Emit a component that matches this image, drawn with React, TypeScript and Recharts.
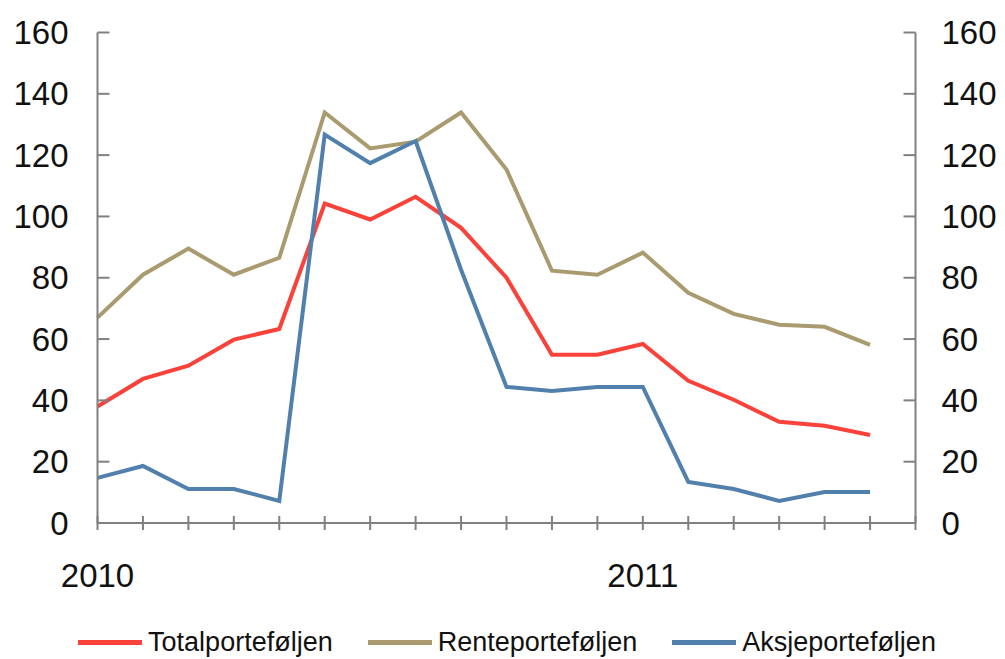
import React from "react";
import { LineChart, Line, XAxis, YAxis, Legend } from "recharts";

const months: number[] = [0, 1, 2, 3, 4, 5, 6, 7, 8, 9, 10, 11, 12, 13, 14, 15, 16, 17];
const total: number[] = [38, 47, 51.3, 59.8, 63.3, 104.2, 99, 106.4, 96.3, 80, 54.9, 54.9, 58.4, 46.4, 40.2, 33, 31.7, 28.7];
const rente: number[] = [67, 81, 89.5, 81, 86.5, 133.9, 122.2, 124.4, 133.9, 115.3, 82.3, 81, 88.2, 75.1, 68.2, 64.7, 64, 58.1];
const aksje: number[] = [14.7, 18.6, 11.1, 11.1, 7.2, 126.7, 117.4, 124.6, 82.6, 44.4, 43.1, 44.4, 44.4, 13.4, 11.1, 7.2, 10.1, 10.1];
const xTicks: number[] = [0, 1, 2, 3, 4, 5, 6, 7, 8, 9, 10, 11, 12, 13, 14, 15, 16, 17, 18];
const yearLabels: Record<number, string> = { 0: "2010", 12: "2011" };
const yTicks: number[] = [0, 20, 40, 60, 80, 100, 120, 140, 160];

const seriesNames = ["Totalporteføljen", "Renteporteføljen", "Aksjeporteføljen"];
const seriesKeys = ["total", "rente", "aksje"];
const seriesColors = ["#F9423A", "#A99B6F", "#5180AC"];
const seriesAxes = ["left", "left", "right"];

const data = months.map((m, i) => ({ i: m, total: total[i], rente: rente[i], aksje: aksje[i] }));

const FONT = "'Liberation Sans', Arial, sans-serif";
const AXIS = "#808080";

const LeftTick = (props: any) => {
  const { x, y, payload } = props;
  return (
    <g>
      <line x1={x} x2={x + 12} y1={y} y2={y} stroke={AXIS} strokeWidth={2} />
      <text x={x - 29} y={y + 11.5} textAnchor="end" fontSize={33} fontFamily={FONT} fill="#111">
        {payload.value}
      </text>
    </g>
  );
};

const RightTick = (props: any) => {
  const { x, y, payload } = props;
  return (
    <g>
      <line x1={x - 12} x2={x} y1={y} y2={y} stroke={AXIS} strokeWidth={2} />
      <text x={x + 26} y={y + 11.5} textAnchor="start" fontSize={33} fontFamily={FONT} fill="#111">
        {payload.value}
      </text>
    </g>
  );
};

const BottomTick = (props: any) => {
  const { x, y, payload } = props;
  const label = yearLabels[payload.value];
  return (
    <g>
      <line x1={x} x2={x} y1={y - 7} y2={y + 7} stroke={AXIS} strokeWidth={2} />
      {label ? (
        <text x={x} y={y + 64} textAnchor="middle" fontSize={33} fontFamily={FONT} fill="#111">
          {label}
        </text>
      ) : null}
    </g>
  );
};

const LegendContent = () => (
  <div style={{ display: "flex", justifyContent: "center", alignItems: "center", fontFamily: FONT, fontSize: 27, color: "#111", paddingLeft: 9 }}>
    {seriesNames.map((n, k) => (
      <div key={n} style={{ display: "flex", alignItems: "center", marginRight: k < 2 ? 35 : 0 }}>
        <div style={{ width: 64, height: 5, background: seriesColors[k], marginRight: 6 }} />
        <span style={{ lineHeight: "30px" }}>{n}</span>
      </div>
    ))}
  </div>
);

export default function App() {
  return (
    <div style={{ position: "absolute", left: 0, top: 0, width: 1005, height: 659, background: "#fff" }}>
      <LineChart width={1005} height={659} data={data} margin={{ top: 32.5, right: 0, left: 0, bottom: 0 }}>
        <XAxis
          dataKey="i"
          type="number"
          domain={[0, 18]}
          ticks={xTicks}
          interval={0}
          height={136}
          tickSize={0}
          tickMargin={0}
          tickLine={false}
          axisLine={{ stroke: AXIS, strokeWidth: 2 }}
          tick={<BottomTick />}
        />
        <YAxis
          yAxisId="left"
          orientation="left"
          type="number"
          domain={[0, 160]}
          ticks={yTicks}
          interval={0}
          width={97.5}
          tickSize={0}
          tickMargin={0}
          tickLine={false}
          axisLine={{ stroke: AXIS, strokeWidth: 2 }}
          tick={<LeftTick />}
        />
        <YAxis
          yAxisId="right"
          orientation="right"
          type="number"
          domain={[0, 160]}
          ticks={yTicks}
          interval={0}
          width={89.5}
          tickSize={0}
          tickMargin={0}
          tickLine={false}
          axisLine={{ stroke: AXIS, strokeWidth: 2 }}
          tick={<RightTick />}
        />
        {seriesKeys.map((k, idx) => (
          <Line
            key={k}
            yAxisId={seriesAxes[idx]}
            type="linear"
            dataKey={k}
            name={seriesNames[idx]}
            stroke={seriesColors[idx]}
            strokeWidth={4}
            dot={false}
            activeDot={false}
            isAnimationActive={false}
          />
        ))}
        <Legend
          verticalAlign="middle"
          align="center"
          layout="horizontal"
          content={<LegendContent />}
          wrapperStyle={{ top: 627, left: 0, width: 1005 }}
        />
      </LineChart>
    </div>
  );
}
